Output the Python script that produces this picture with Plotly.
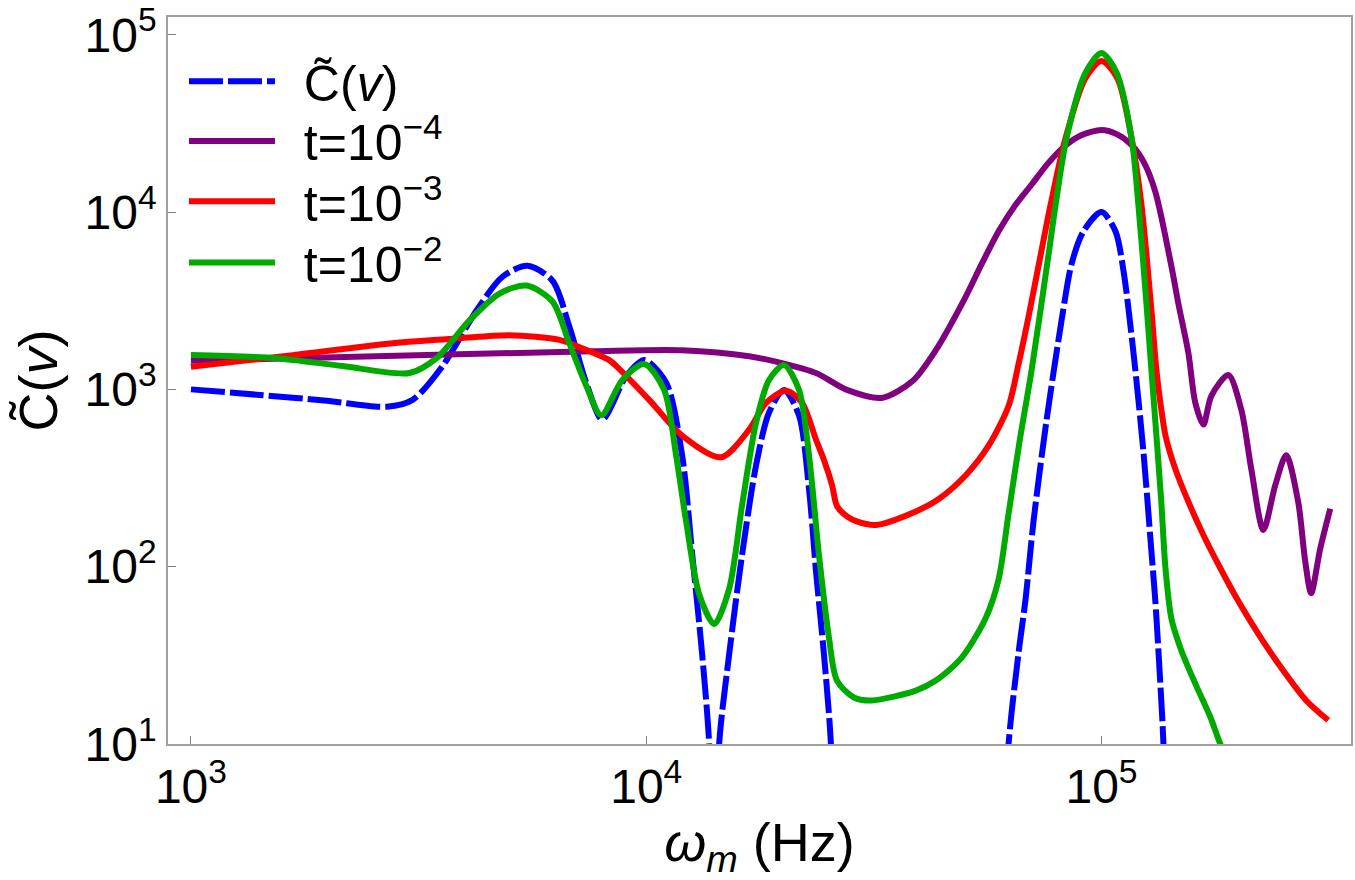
import plotly.graph_objects as go

# ---------------- data ----------------
blue_x = [1000, 1417, 1987, 2691, 3068, 3569, 4239, 4834, 5483, 6223, 6777, 7385, 8006,
          9040, 9899, 11060, 11990, 12620, 13270, 13750, 14100, 14460, 15210, 16240,
          17430, 18610, 20070, 21660, 22780, 23600, 24570, 25450, 26500, 40000, 58000,
          62500, 65770, 68130, 70900, 75770, 81720, 85950, 91310, 100000, 107300, 111750,
          117570, 123650, 128700, 131300, 135300, 136800, 140000]
blue_y = [1000, 930, 863, 798, 873, 1353, 2786, 4316, 4977, 4100, 2265, 1087, 676,
          1189, 1462, 1090, 425, 117, 32, 10, 1, 10, 32, 117,
          373, 740, 993, 711, 274, 94, 32, 10, 0.3, 0.1, 0.3,
          10, 33, 66, 180, 676, 2451, 5100, 7800, 10000, 7800, 4670,
          1600, 441, 122, 64, 17.6, 10, 1]

purple_x = [1000, 3293, 7612, 11990, 16830, 19870, 23600, 27600, 32920, 38400, 43250,
            50330, 54560, 59430, 64780, 70230, 76530, 83000, 90000, 100000, 108000,
            116400, 124000, 131300, 142400, 147500, 155200, 160700, 167400, 174300,
            189900, 202800, 213300, 226700, 240800, 254500, 270400, 280200, 288700,
            302200, 318000]
purple_y = [1450, 1560, 1641, 1663, 1538, 1405, 1236, 993, 895, 1110, 1663,
            3337, 5100, 7800, 11000, 14300, 19000, 23500, 27000, 29000, 27500,
            23900, 19000, 13000, 4950, 3050, 1600, 840, 633, 920,
            1205, 767, 355, 161, 288, 425, 232, 107, 71,
            126, 212]

red_x = [1000, 1674, 2773, 3890, 5006, 6448, 7237, 8297, 8595, 10150, 11990, 14600,
         16830, 18330, 20280, 21990, 23600, 24570, 25580, 26240, 27600, 29000, 31940,
         39090, 43900, 50330, 56530, 62520, 65770, 69200, 72750, 77300, 83390, 92240,
         100000, 108300, 116400, 122400, 128700, 132000, 134700, 138200, 145300, 155200,
         167400, 182400, 199700, 221000, 248200, 281600, 314800]
red_y = [1340, 1560, 1820, 1941, 2018, 1900, 1706, 1462, 1353, 873, 549, 414,
         593, 840, 982, 840, 520, 400, 290, 220, 192, 180, 172,
         205, 241, 328, 483, 809, 1400, 2600, 5000, 11000, 26200, 57000,
         71000, 57000, 26200, 11000, 2800, 1285, 840, 549, 355, 232,
         151, 98, 64, 41.8, 26.9, 17.6, 13.6]

green_x = [1000, 1543, 2154, 3022, 3463, 4091, 4761, 5456, 6223, 6777, 7385, 7966,
           8860, 9899, 10950, 11630, 12240, 13070, 14100, 15210, 16240, 17430, 18610,
           20070, 21660, 22780, 23950, 25200, 26240, 28590, 31300, 39090, 43250, 49320,
           55680, 59430, 62520, 66000, 70230, 76530, 79280, 83810, 92240, 100000,
           107900, 116400, 120500, 125500, 128700, 132000, 135300, 138200, 142400,
           149800, 160700, 173400, 182400, 195000]
green_y = [1560, 1500, 1353, 1236, 1500, 2451, 3470, 3850, 3130, 1820, 1047, 715,
           1130, 1390, 993, 425, 179, 70, 47.5, 75, 223, 650, 1130,
           1370, 993, 425, 117, 39.7, 22.8, 18.3, 17.6, 20, 22.8, 30.7,
           51.4, 85, 200, 500, 1285, 5800, 11000, 26200, 61200, 79000,
           61200, 26200, 11000, 3050, 1285, 549, 232, 98, 51,
           33.6, 21.9, 14.2, 10, 7]

series_names = ["C\u0303(<i>v</i>)", "t=10<sup>\u22124</sup>", "t=10<sup>\u22123</sup>", "t=10<sup>\u22122</sup>"]
x_tick_vals = [1e3, 1e4, 1e5]
x_tick_text = ["10<sup>3</sup>", "10<sup>4</sup>", "10<sup>5</sup>"]
y_tick_vals = [1e1, 1e2, 1e3, 1e4, 1e5]
y_tick_text = ["10<sup>1</sup>", "10<sup>2</sup>", "10<sup>3</sup>", "10<sup>4</sup>", "10<sup>5</sup>"]

# ---------------- figure ----------------
FONT = "Liberation Sans, Arial, sans-serif"
pad = "\u00a0\u2009"
colors = ["#0000FF", "#800080", "#FF0000", "#00AA00"]
xs = [blue_x, purple_x, red_x, green_x]
ys = [blue_y, purple_y, red_y, green_y]
legend_ids = ["legend", "legend2", "legend3", "legend4"]
legend_y = [0.9115, 0.8296, 0.7464, 0.6622]

fig = go.Figure()
for i in range(4):
    line = dict(color=colors[i], width=6, shape="spline", smoothing=0.8)
    if i == 0:
        line["dash"] = "34px,5px"
    fig.add_trace(go.Scatter(x=xs[i], y=ys[i], mode="lines", name=pad + series_names[i],
                             line=line, legend=legend_ids[i]))

axis_common = dict(
    showgrid=False, zeroline=False, showline=True, mirror=True,
    linecolor="#A0A0A0", linewidth=1.5,
    ticks="inside", ticklen=8, tickcolor="#808080", tickwidth=1,
    tickfont=dict(family=FONT, size=48, color="black"),
    ticklabeloverflow="allow",
)

legends = {}
for i, lid in enumerate(legend_ids):
    legends[lid] = dict(x=0.0135, y=legend_y[i], xanchor="left", yanchor="middle",
                        bgcolor="rgba(0,0,0,0)", borderwidth=0,
                        font=dict(family=FONT, size=50, color="black"),
                        itemwidth=86)

fig.update_layout(
    width=1355, height=880,
    margin=dict(l=168, r=2, t=11, b=136),
    paper_bgcolor="white", plot_bgcolor="white",
    font=dict(family=FONT, color="black"),
    xaxis=dict(type="log", range=[2.9496, 5.548], tickmode="array",
               tickvals=x_tick_vals, ticktext=x_tick_text,
               title=dict(text="<i>\u03c9</i><sub><i>m</i></sub> (Hz)",
                          font=dict(family=FONT, size=54, color="black"), standoff=21),
               **axis_common),
    yaxis=dict(type="log", range=[1.0, 5.1], tickmode="array",
               tickvals=y_tick_vals, ticktext=y_tick_text,
               title=dict(text="C\u0303(<i>v</i>)",
                          font=dict(family=FONT, size=54, color="black"), standoff=10),
               **axis_common),
    showlegend=True,
    **legends,
)

fig.write_html("out.html")
